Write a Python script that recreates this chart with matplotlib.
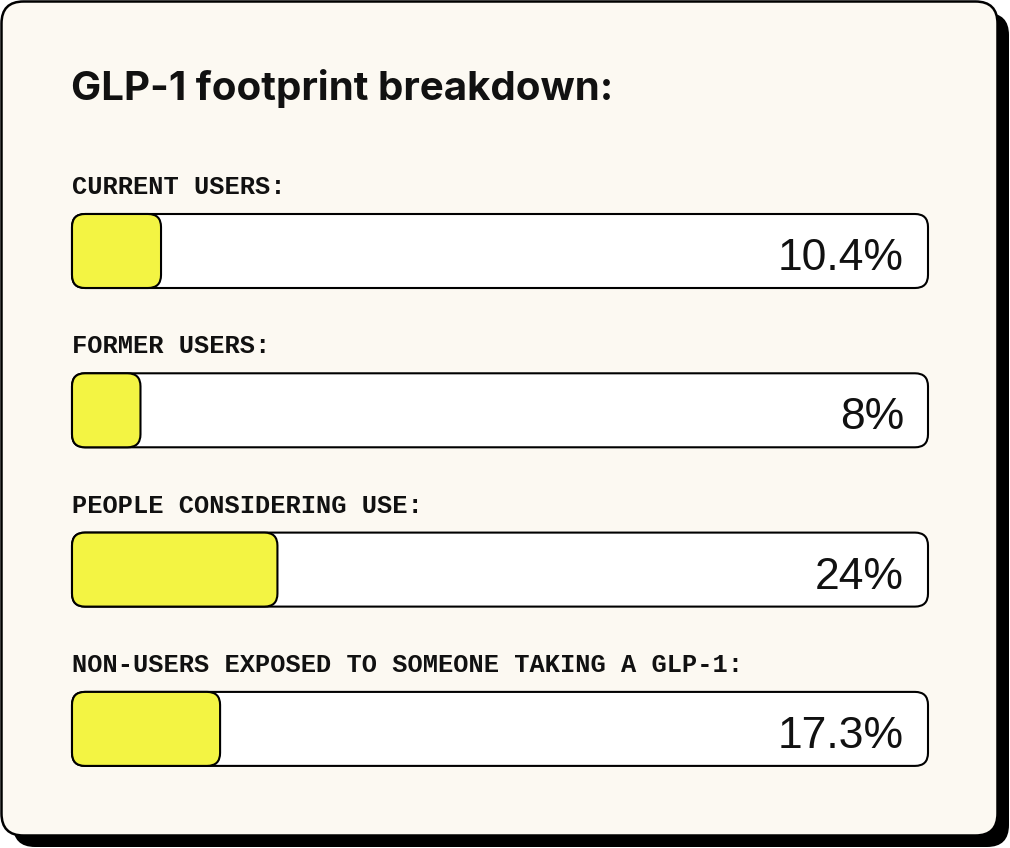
import matplotlib.pyplot as plt
from matplotlib.patches import FancyBboxPatch

# data
categories = ["CURRENT USERS:", "FORMER USERS:", "PEOPLE CONSIDERING USE:",
              "NON-USERS EXPOSED TO SOMEONE TAKING A GLP-1:"]
values = [10.4, 8, 24, 17.3]
value_labels = ["10.4%", "8%", "24%", "17.3%"]
title = "GLP-1 footprint breakdown:"

W, H = 1010, 848
fig = plt.figure(figsize=(W / 100, H / 100), dpi=100)
ax = fig.add_axes([0, 0, 1, 1])
ax.set_xlim(0, W)
ax.set_ylim(H, 0)
ax.axis("off")
fig.patch.set_facecolor("white")

# card + shadow
ax.add_patch(FancyBboxPatch((13, 13), 996, 834, boxstyle="round,pad=0,rounding_size=22",
                            facecolor="black", edgecolor="none"))
ax.add_patch(FancyBboxPatch((1.5, 1.5), 996, 834, boxstyle="round,pad=0,rounding_size=22",
                            facecolor="#fcf9f2", edgecolor="black", linewidth=1.8))

ax.text(71, 100, title, fontsize=29, fontweight="bold", family="Inter",
        color="#111111", va="baseline", ha="left")

x0, bar_w, bar_h = 72, 856, 74
top0, step = 214, 159.3
for i, (cat, v, lab) in enumerate(zip(categories, values, value_labels)):
    top = top0 + i * step
    ax.text(x0, top - 20, cat, fontsize=18.3, fontweight="bold", family="Liberation Mono",
            color="#111111", va="baseline", ha="left")
    ax.add_patch(FancyBboxPatch((x0, top), bar_w, bar_h, boxstyle="round,pad=0,rounding_size=13",
                                facecolor="white", edgecolor="black", linewidth=1.5))
    ax.add_patch(FancyBboxPatch((x0, top), bar_w * v / 100, bar_h,
                                boxstyle="round,pad=0,rounding_size=13",
                                facecolor="#f3f443", edgecolor="black", linewidth=1.5))
    ax.text(x0 + bar_w - 24, top + 56, lab, fontsize=32, family="Liberation Sans",
            color="#111111", va="baseline", ha="right")

plt.savefig("out.png", dpi=100)
